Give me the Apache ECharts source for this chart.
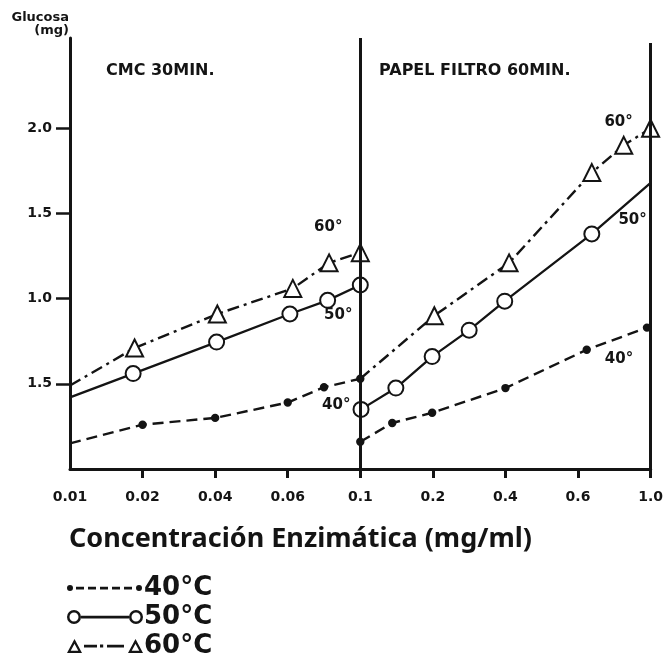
<!DOCTYPE html>
<html>
<head>
<meta charset="utf-8">
<script src="https://cdn.jsdelivr.net/npm/echarts@6/dist/echarts.min.js"></script>
<style>
  html, body { margin: 0; padding: 0; background: #fff; }
  #chart { width: 666px; height: 660px; }
</style>
</head>
<body>
<div id="chart"></div>
<script>
// Concentration tick labels; the axis places them on equal steps 0..8
const xTickLabels = ['0.01', '0.02', '0.04', '0.06', '0.1', '0.2', '0.4', '0.6', '1.0'];
const yTickValues = [0.5, 1.0, 1.5, 2.0];
const yTickLabels = ['1.5', '1.0', '1.5', '2.0'];

// CMC, 30 min  -> [step position, glucose (mg)]
const cmc40 = [[0, 0.15], [1.0, 0.26], [2.0, 0.30], [3.0, 0.39], [3.5, 0.48], [4.0, 0.53]];
const cmc50 = [[0, 0.42], [0.87, 0.56], [2.02, 0.745], [3.03, 0.91], [3.55, 0.99], [4.0, 1.08]];
const cmc60 = [[0, 0.49], [0.89, 0.71], [2.03, 0.91], [3.07, 1.06], [3.57, 1.21], [4.0, 1.27]];

// Papel filtro, 60 min
const papel40 = [[4.0, 0.16], [4.44, 0.27], [4.99, 0.33], [6.0, 0.475], [7.12, 0.70], [7.95, 0.83]];
const papel50 = [[4.01, 0.35], [4.49, 0.475], [4.99, 0.66], [5.5, 0.815], [5.99, 0.985], [7.19, 1.38], [8.0, 1.68]];
const papel60 = [[4.0, 0.53], [5.02, 0.90], [6.05, 1.21], [7.19, 1.74], [7.63, 1.90], [8.0, 2.0]];

const seriesNames = ['40°C', '50°C', '60°C'];
const curveTags = ['40°', '50°', '60°'];

const INK = '#141414';
const Y_MAX = 2.53;

// Legend glyphs: marker, line pattern, marker (drawn in a 76 x 20 box)
const box = 'M0,0L0,0M76,20L76,20';
const icon40 = 'path://' + box +
  'M0,10a3,3 0 1,0 6,0a3,3 0 1,0 -6,0Z' +
  'M9,8.8h8v2.6h-8Z M21,8.8h8v2.6h-8Z M33,8.8h8v2.6h-8Z M45,8.8h8v2.6h-8Z M57,8.8h8v2.6h-8Z' +
  'M69,10a3,3 0 1,0 6,0a3,3 0 1,0 -6,0Z';
const icon50 = 'path://' + box +
  'M0,10a7,7 0 1,0 14,0a7,7 0 1,0 -14,0Z M2.5,10a4.5,4.5 0 1,1 9,0a4.5,4.5 0 1,1 -9,0Z' +
  'M14,8.8h48v2.6h-48Z' +
  'M62,10a7,7 0 1,0 14,0a7,7 0 1,0 -14,0Z M64.5,10a4.5,4.5 0 1,1 9,0a4.5,4.5 0 1,1 -9,0Z';
const icon60 = 'path://' + box +
  'M0,17L7.5,3L15,17Z M3.7,14.8L11.3,14.8L7.5,7.7Z' +
  'M17,8.8h13v2.6h-13Z M33,8.6h3.2v3h-3.2Z M40,8.8h17v2.6h-17Z' +
  'M61,17L68.5,3L76,17Z M64.7,14.8L72.3,14.8L68.5,7.7Z';
const legendIcons = [icon40, icon50, icon60];

const styles = [
  { symbol: 'circle', symbolSize: 6, line: { width: 2.4, type: [11, 6] } },
  { symbol: 'emptyCircle', symbolSize: 15, line: { width: 2.3, type: 'solid' } },
  { symbol: 'emptyTriangle', symbolSize: 17, line: { width: 2.4, type: [12, 5, 3, 5] } }
];

function toData(points, bare) {
  return points.map((p, i) => bare.indexOf(i) >= 0 ? { value: p, symbol: 'none' } : { value: p });
}

function curve(kind, points, bare, tagOffset) {
  const st = styles[kind];
  const last = points[points.length - 1];
  return {
    type: 'line',
    name: seriesNames[kind],
    data: toData(points, bare),
    symbol: st.symbol,
    symbolSize: st.symbolSize,
    showAllSymbol: true,
    color: INK,
    itemStyle: { color: INK, borderColor: INK, borderWidth: 2.4 },
    lineStyle: { color: INK, width: st.line.width, type: st.line.type },
    z: 3,
    markPoint: {
      symbol: 'circle',
      symbolSize: 0,
      silent: true,
      label: {
        show: true,
        position: 'inside',
        formatter: curveTags[kind],
        offset: tagOffset,
        color: INK,
        fontFamily: 'DejaVu Sans',
        fontWeight: 'bold',
        fontSize: 15
      },
      data: [{ coord: last }]
    }
  };
}

const chart = echarts.init(document.getElementById('chart'), null, { renderer: 'canvas' });

const series = [
  curve(0, cmc40, [0], [-24, 26]),
  curve(1, cmc50, [0], [-22, 30]),
  curve(2, cmc60, [0], [-32, -26]),
  curve(0, papel40, [], [-28, 32]),
  curve(1, papel50, [papel50.length - 1], [-18, 37]),
  curve(2, papel60, [0], [-32, -6])
];

// Panel divider at 0.1 and the closing frame line at 1.0
series.push({
  type: 'line',
  data: [],
  silent: true,
  markLine: {
    symbol: 'none',
    silent: true,
    label: { show: false },
    lineStyle: { color: INK, width: 3, type: 'solid' },
    data: [
      [{ coord: [4, 0] }, { coord: [4, Y_MAX] }],
      [{ coord: [8, 0] }, { coord: [8, 2.5] }]
    ]
  }
});

chart.setOption({
  backgroundColor: '#fff',
  animation: false,
  textStyle: { fontFamily: 'DejaVu Sans', color: INK },
  grid: { left: 70, right: 14, top: 38, bottom: 191, containLabel: false },
  title: [
    { text: 'CMC 30MIN.', left: 106, top: 63, padding: 0,
      textStyle: { fontFamily: 'DejaVu Sans', fontWeight: 'bold', fontSize: 16, color: INK } },
    { text: 'PAPEL FILTRO 60MIN.', left: 379, top: 63, padding: 0,
      textStyle: { fontFamily: 'DejaVu Sans', fontWeight: 'bold', fontSize: 16, color: INK } },
    { text: 'Concentración Enzimática (mg/ml)', left: 69, top: 526, padding: 0,
      textStyle: { fontFamily: 'Noto Sans', fontWeight: 'bold', fontSize: 27, color: INK } }
  ],
  legend: {
    data: seriesNames.map((n, i) => ({ name: n, icon: legendIcons[i] })),
    orient: 'vertical',
    left: 67,
    top: 575,
    height: 100,
    itemWidth: 76,
    itemHeight: 20,
    itemGap: 3,
    selectedMode: false,
    padding: 0,
    itemStyle: { color: INK, borderWidth: 0 },
    textStyle: { fontFamily: 'DejaVu Sans', fontWeight: 'bold', fontSize: 26, color: INK,
      padding: [0, 0, 0, -4] }
  },
  xAxis: {
    type: 'value',
    min: 0,
    max: 8,
    interval: 1,
    splitLine: { show: false },
    axisLine: { show: true, lineStyle: { color: INK, width: 3 } },
    axisTick: { show: true, length: 9, customValues: [1, 2, 3, 4, 5, 6, 7, 8],
      lineStyle: { color: INK, width: 3 } },
    axisLabel: {
      show: true,
      margin: 21,
      fontFamily: 'DejaVu Sans',
      fontWeight: 'bold',
      fontSize: 14,
      color: INK,
      formatter: v => xTickLabels[Math.round(v)] || ''
    }
  },
  yAxis: {
    type: 'value',
    min: 0,
    max: Y_MAX,
    name: 'Glucosa\n(mg)',
    nameLocation: 'end',
    nameGap: 1,
    nameTextStyle: {
      align: 'right', verticalAlign: 'bottom', fontFamily: 'DejaVu Sans',
      fontWeight: 'bold', fontSize: 13, lineHeight: 13, color: INK, padding: [0, 1, 0, 0]
    },
    splitLine: { show: false },
    axisLine: { show: true, lineStyle: { color: INK, width: 3 } },
    axisTick: { show: true, length: 14, customValues: yTickValues,
      lineStyle: { color: INK, width: 2.5 } },
    axisLabel: {
      show: true,
      margin: 18,
      customValues: yTickValues,
      fontFamily: 'DejaVu Sans',
      fontWeight: 'bold',
      fontSize: 14,
      color: INK,
      formatter: v => {
        const i = yTickValues.findIndex(t => Math.abs(t - v) < 1e-6);
        return i >= 0 ? yTickLabels[i] : '';
      }
    }
  },
  series: series
});
</script>
</body>
</html>
